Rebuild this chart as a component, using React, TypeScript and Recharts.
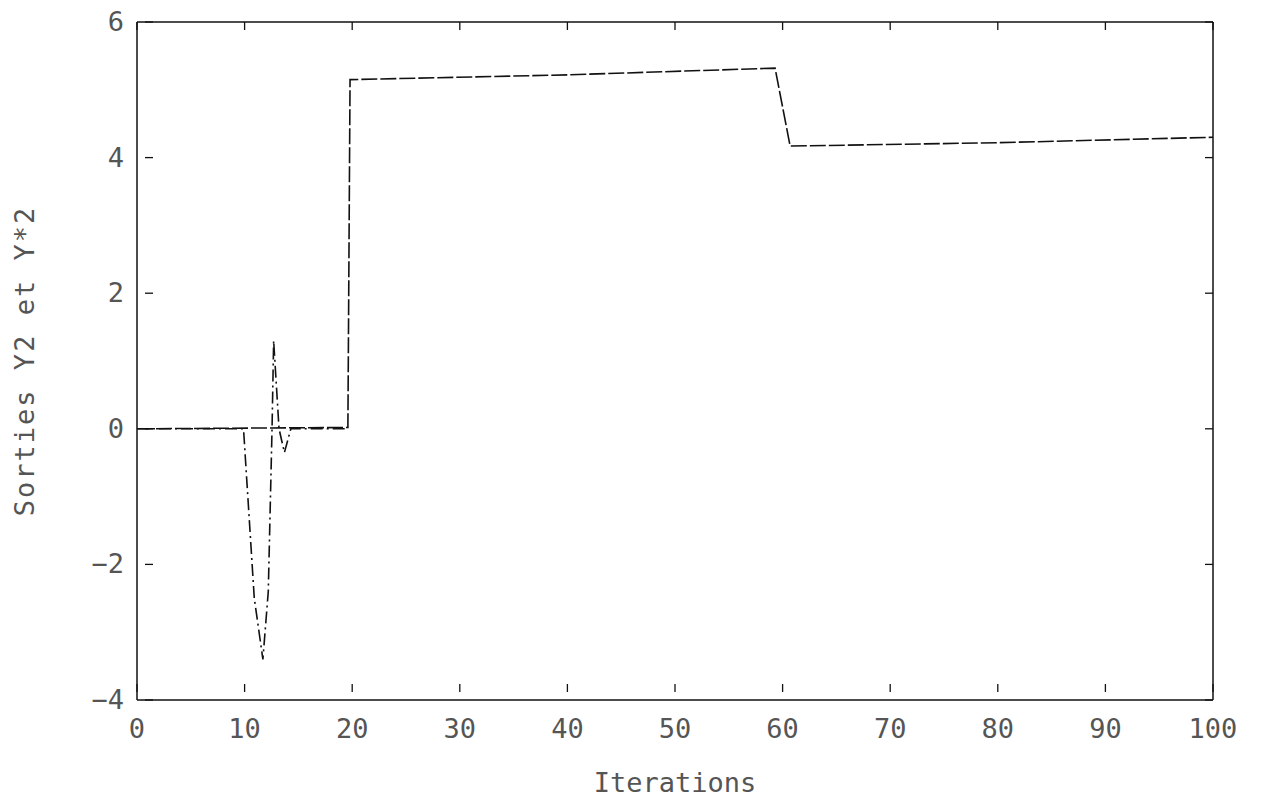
import { LineChart, Line, XAxis, YAxis } from 'recharts'

// Sortie Y2 : palier à 0, saut vers ~5.2 à l'itération 20, puis ~4.2 après 60
const y2Iter = [0, 19.6, 19.8, 40, 59.3, 60.7, 80, 100]
const y2Vals = [0, 0.02, 5.15, 5.22, 5.32, 4.17, 4.22, 4.3]

// Sortie Y*2 : pic autour de l'itération 12
const yr2Iter = [0, 9.9, 10.9, 11.7, 12.2, 12.55, 12.7, 13.2, 13.7, 14.3, 19.6]
const yr2Vals = [0, 0, -2.5, -3.4, -2.4, 0, 1.3, 0, -0.35, 0, 0]

const xTicks = [0, 10, 20, 30, 40, 50, 60, 70, 80, 90, 100]
const yTicks = [-4, -2, 0, 2, 4, 6]

const y2Data = y2Iter.map((x, i) => ({ x, y: y2Vals[i] }))
const yr2Data = yr2Iter.map((x, i) => ({ x, y: yr2Vals[i] }))

const font = '"DejaVu Sans Mono", monospace'
const ink = '#111'
const textGray = '#555'
const TICK = 8
// distance entre l'axe et la position (x, y) que recharts passe au tick perso
const GAP = 15

const fmtY = (v: number) => (v < 0 ? '\u2212' + Math.abs(v) : String(v))

// graduations tournées vers l'intérieur du cadre
const BottomTick = ({ x, y, payload }: any) => (
  <g>
    <line x1={x} x2={x} y1={y - GAP} y2={y - GAP - TICK} stroke={ink} strokeWidth={1.3} />
    <text x={x} y={y} dy={31} textAnchor="middle" fontFamily={font} fontSize={27} fill={textGray}>
      {payload.value}
    </text>
  </g>
)

const LeftTick = ({ x, y, payload }: any) => (
  <g>
    <line x1={x + GAP} x2={x + GAP + TICK} y1={y} y2={y} stroke={ink} strokeWidth={1.3} />
    <text x={x} y={y} dx={-6} dy={9} textAnchor="end" fontFamily={font} fontSize={27} fill={textGray}>
      {fmtY(payload.value)}
    </text>
  </g>
)

const TopTick = ({ x, y }: any) => (
  <line x1={x} x2={x} y1={y + 1} y2={y + 1 + TICK} stroke={ink} strokeWidth={1.3} />
)

const RightTick = ({ x, y }: any) => (
  <line x1={x - 1} x2={x - 1 - TICK} y1={y} y2={y} stroke={ink} strokeWidth={1.3} />
)

export default function App() {
  return (
    <div style={{ position: 'absolute', left: 0, top: 0, background: '#fff' }}>
      <LineChart
        width={1263}
        height={803}
        margin={{ top: 21, right: 49, left: 0, bottom: 0 }}
      >
        <XAxis
          xAxisId="bottom"
          type="number"
          dataKey="x"
          domain={[0, 100]}
          ticks={xTicks}
          height={103}
          stroke={ink}
          strokeWidth={1.5}
          tickLine={false}
          tickSize={1}
          tickMargin={6}
          tick={<BottomTick />}
          label={{
            value: 'Iterations',
            position: 'insideBottom',
            offset: 11,
            style: { fontFamily: font, fontSize: 27, fill: textGray },
          }}
        />
        <XAxis
          xAxisId="top"
          type="number"
          dataKey="x"
          orientation="top"
          domain={[0, 100]}
          ticks={xTicks}
          height={1}
          stroke={ink}
          strokeWidth={1.5}
          tickLine={false}
          tickSize={1}
          tickMargin={0}
          tick={<TopTick />}
        />
        <YAxis
          yAxisId="left"
          type="number"
          domain={[-4, 6]}
          ticks={yTicks}
          width={137}
          stroke={ink}
          strokeWidth={1.5}
          tickLine={false}
          tickSize={1}
          tickMargin={6}
          tick={<LeftTick />}
          label={{
            value: 'Sorties Y2 et Y*2',
            angle: -90,
            position: 'insideLeft',
            offset: 24,
            style: { fontFamily: font, fontSize: 27, letterSpacing: 2, fill: textGray, textAnchor: 'middle' },
          }}
        />
        <YAxis
          yAxisId="right"
          type="number"
          orientation="right"
          domain={[-4, 6]}
          ticks={yTicks}
          width={1}
          stroke={ink}
          strokeWidth={1.5}
          tickLine={false}
          tickSize={1}
          tickMargin={0}
          tick={<RightTick />}
        />
        <Line
          data={y2Data}
          xAxisId="bottom"
          yAxisId="left"
          dataKey="y"
          type="linear"
          stroke={ink}
          strokeWidth={1.6}
          strokeDasharray="16 3"
          dot={false}
          isAnimationActive={false}
        />
        <Line
          data={yr2Data}
          xAxisId="bottom"
          yAxisId="left"
          dataKey="y"
          type="linear"
          stroke={ink}
          strokeWidth={1.6}
          strokeDasharray="12 4 2 4"
          dot={false}
          isAnimationActive={false}
        />
        {/* série invisible pour faire exister les axes haut et droit du cadre */}
        <Line
          data={y2Data}
          xAxisId="top"
          yAxisId="right"
          dataKey="y"
          stroke="none"
          dot={false}
          activeDot={false}
          legendType="none"
          isAnimationActive={false}
        />
      </LineChart>
    </div>
  )
}
